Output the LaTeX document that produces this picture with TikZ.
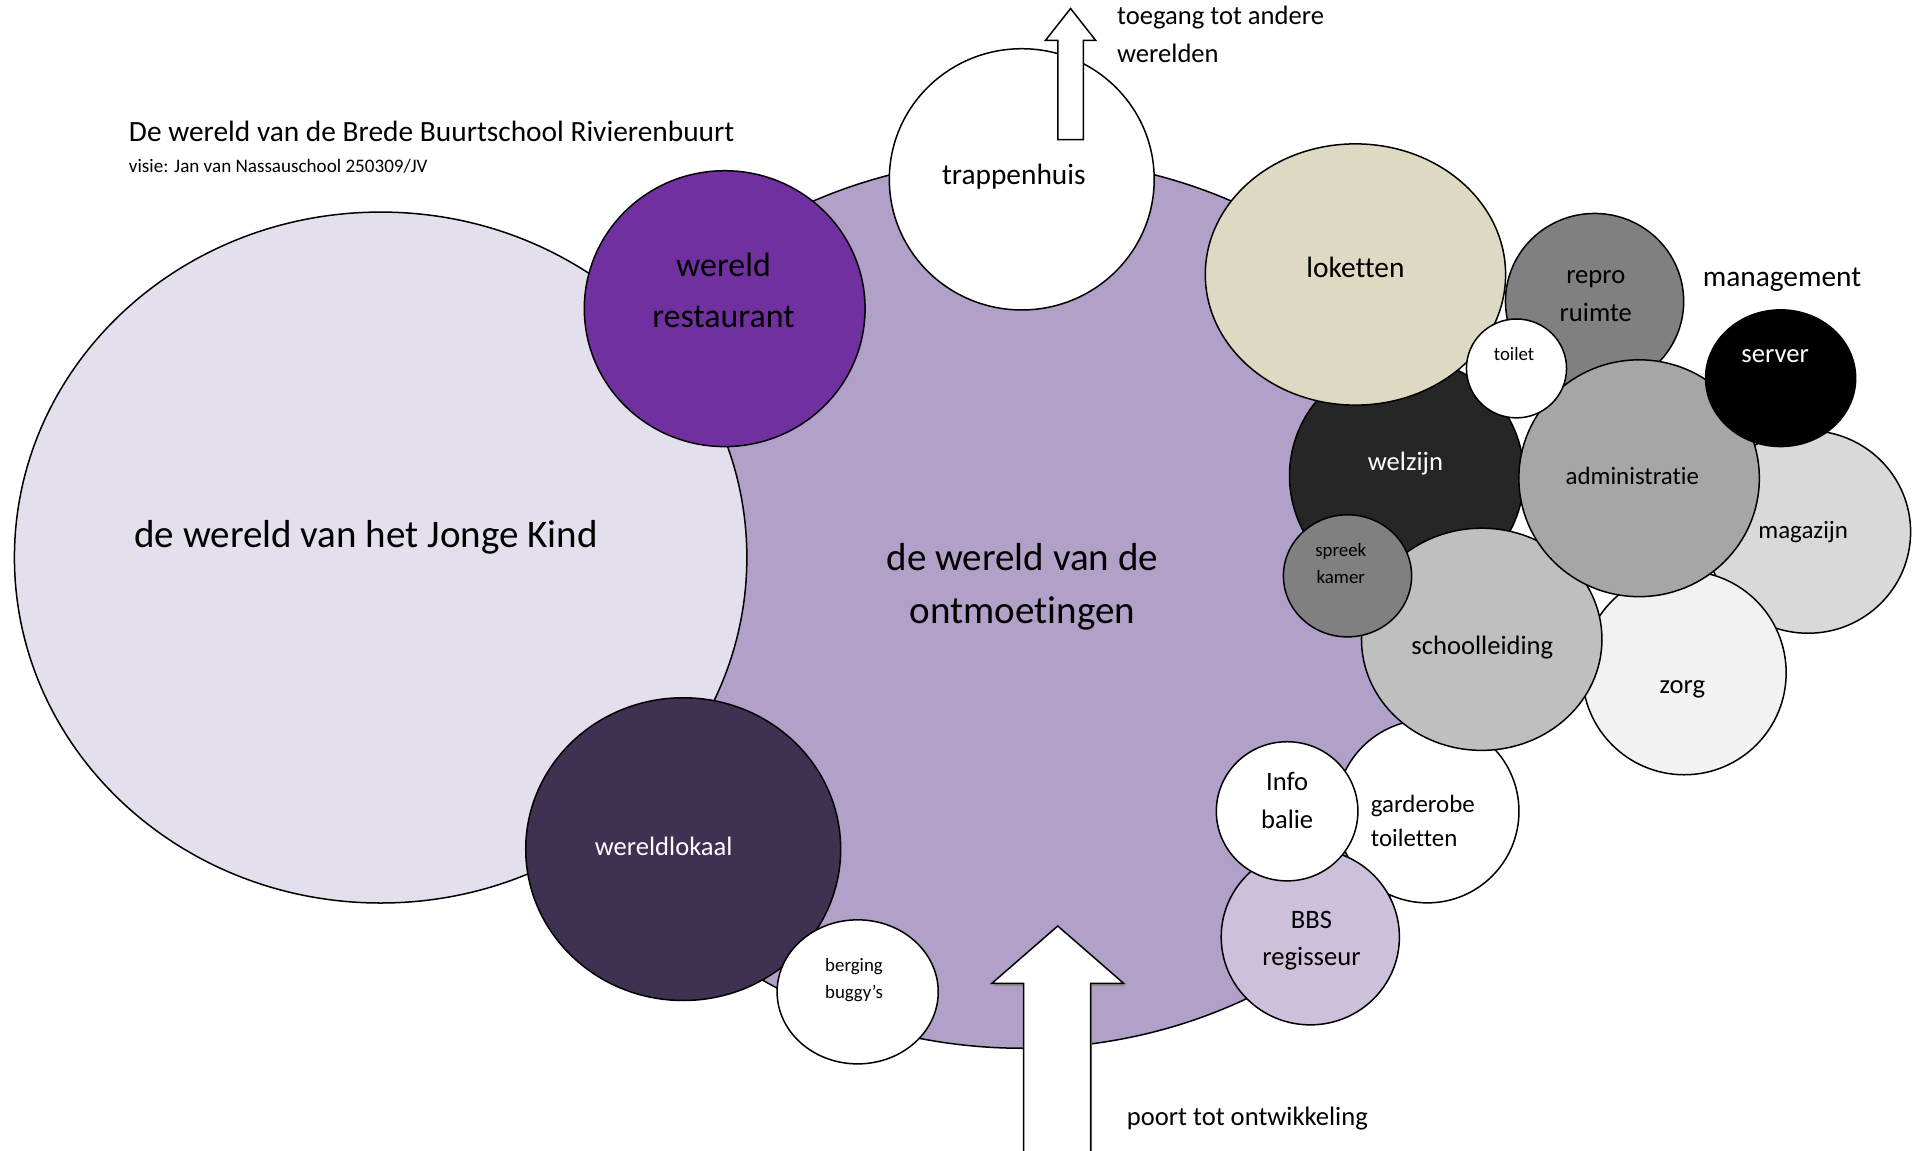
\documentclass[tikz,border=0pt]{standalone}
\usepackage{fontspec}
\setmainfont{Carlito}[Ligatures=NoCommon]
\usepackage{tikz}
\usetikzlibrary{shapes.geometric}
\definecolor{ontmoet}{HTML}{B1A0C7}
\definecolor{jongekind}{HTML}{E4DFEC}
\definecolor{restpaars}{HTML}{7030A0}
\definecolor{lokaalpaars}{HTML}{3F3151}
\definecolor{regielila}{HTML}{CCC0DA}
\definecolor{loketbeige}{HTML}{DDD9C3}
\tikzstyle{wereld} = [ellipse, draw=black, line width=0.35pt, inner sep=0pt]
\tikzstyle{tekst} = [inner sep=0pt, align=center, font=\fontsize{6.2}{8.8}\selectfont]
\tikzstyle{kop} = [inner sep=0pt, align=center, font=\fontsize{6.85}{8.8}\selectfont]
\tikzstyle{klein} = [inner sep=0pt, align=center, font=\fontsize{4.4}{6.3}\selectfont]
\tikzstyle{groot} = [inner sep=0pt, align=center, font=\fontsize{9.1}{12.5}\selectfont]
\tikzstyle{pijl} = [draw=black, fill=white, line width=0.35pt]

\begin{document}
\begin{tikzpicture}[x=0.01cm, y=-0.01cm]
	\useasboundingbox (0,0) rectangle (1568,943);

	% grote werelden
	\node (ontmoeting) [wereld, fill=ontmoet, minimum width=8cm, minimum height=7.29cm] at (838,494.5) {};
	\node (jonge) [wereld, fill=jongekind, minimum width=6cm, minimum height=5.66cm] at (312,457) {};
	\node (restaurant) [wereld, fill=restpaars, minimum width=2.3cm, minimum height=2.26cm] at (594,253) {};
	\node (trappen) [wereld, fill=white, minimum width=2.17cm, minimum height=2.14cm] at (837.5,147) {};
	\draw [pijl] (867,114.5) -- (867,33) -- (857,33) -- (877.5,7) -- (898,33) -- (888,33) -- (888,114.5) -- cycle;
	\node (lokaal) [wereld, fill=lokaalpaars, minimum width=2.58cm, minimum height=2.48cm] at (560,696) {};
	\node (berging) [wereld, fill=white, minimum width=1.32cm, minimum height=1.18cm] at (703,813) {};

	% ingang
	\node (garderobe) [wereld, fill=white, minimum width=1.5cm, minimum height=1.5cm] at (1170,665) {};
	\node (bbs) [wereld, fill=regielila, minimum width=1.46cm, minimum height=1.44cm] at (1074,768) {};
	\node (info) [wereld, fill=white, minimum width=1.16cm, minimum height=1.14cm] at (1055,665) {};

	% management
	\node (welzijn) [wereld, fill=black!85, minimum width=1.92cm, minimum height=1.92cm] at (1153,390) {};
	\node (loketten) [wereld, fill=loketbeige, minimum width=2.46cm, minimum height=2.14cm] at (1111,225) {};
	\node (repro) [wereld, fill=black!50, minimum width=1.46cm, minimum height=1.44cm] at (1307,247) {};
	\node (magazijn) [wereld, fill=black!15, minimum width=1.68cm, minimum height=1.66cm] at (1482,436) {};
	\node (zorg) [wereld, fill=black!5, minimum width=1.67cm, minimum height=1.67cm] at (1380.5,551.5) {};
	\node (leiding) [wereld, fill=black!25, minimum width=1.97cm, minimum height=1.82cm] at (1214.5,524) {};
	\node (admin) [wereld, fill=black!35, minimum width=1.97cm, minimum height=1.94cm] at (1343.5,392) {};
	\node (toilet) [wereld, fill=white, minimum width=0.82cm, minimum height=0.81cm] at (1243,302) {};
	\node (server) [wereld, fill=black, minimum width=1.23cm, minimum height=1.12cm] at (1459.5,310) {};
	\node (spreek) [wereld, fill=black!50, minimum width=1.05cm, minimum height=1cm] at (1104.5,472) {};

	% poort
	\fill [black!45, shift={(1.2,2.2)}] (839,950) -- (839,806) -- (813,806) -- (867,759) -- (921,806) -- (894,806) -- (894,950) -- cycle;
	\draw [pijl] (839,950) -- (839,806) -- (813,806) -- (867,759) -- (921,806) -- (894,806) -- (894,950) -- cycle;

	% teksten
	\node (titel) [kop, anchor=west] at (105,108) {De wereld van de Brede Buurtschool Rivierenbuurt};
	\node (visie) [inner sep=0pt, anchor=west, font=\fontsize{4.45}{6}\selectfont] at (105,136.5) {visie: Jan van Nassauschool 250309/JV};
	\node (toegang) [tekst, anchor=west, align=left] at (915,28) {toegang tot andere\\werelden};
	\node (mgmt) [kop, anchor=west] at (1395,229) {management};
	\node (poort) [tekst, anchor=west] at (923,917) {poort tot ontwikkeling};

	\node (jonge-t) [groot] at (300,440) {de wereld van het Jonge Kind};
	\node (ontmoeting-t) [groot] at (838,481) {de wereld van de\\ontmoetingen};
	\node (restaurant-t) [inner sep=0pt, align=center, font=\fontsize{7.9}{11.7}\selectfont] at (593,238) {wereld\\restaurant};
	\node (trappen-t) [kop] at (831,145) {trappenhuis};
	\node (lokaal-t) [tekst, text=white] at (544,694) {wereldlokaal};
	\node (berging-t) [klein] at (700,803) {berging\\buggy’s};
	\node (garderobe-t) [inner sep=0pt, align=left, anchor=west, font=\fontsize{5.8}{8}\selectfont] at (1123,673) {garderobe\\toiletten};
	\node (bbs-t) [tekst] at (1075,771) {BBS\\regisseur};
	\node (info-t) [tekst] at (1055,656) {Info\\balie};
	\node (welzijn-t) [tekst, text=white] at (1152,380) {welzijn};
	\node (loketten-t) [kop] at (1111,219.5) {loketten};
	\node (repro-t) [tekst] at (1308,242.5) {repro\\ruimte};
	\node (magazijn-t) [tekst, font=\fontsize{5.8}{8}\selectfont] at (1478,436) {magazijn};
	\node (zorg-t) [tekst] at (1379,565) {zorg};
	\node (leiding-t) [tekst] at (1215,531) {schoolleiding};
	\node (admin-t) [tekst, font=\fontsize{5.8}{8}\selectfont] at (1338,390) {administratie};
	\node (toilet-t) [klein] at (1241,290) {toilet};
	\node (server-t) [tekst, text=white] at (1455,292) {server};
	\node (spreek-t) [klein] at (1099,462) {spreek\\kamer};
\end{tikzpicture}
\end{document}
